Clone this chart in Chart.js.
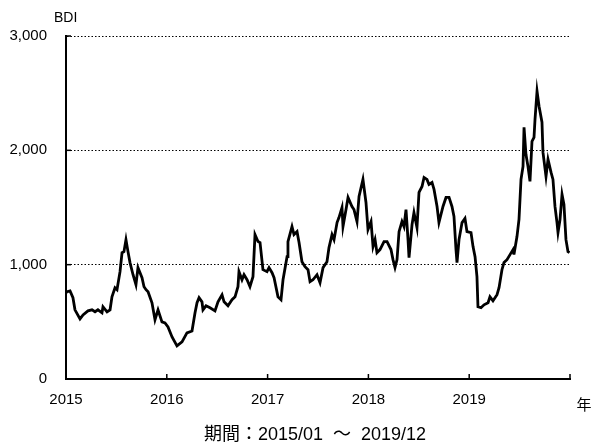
<!DOCTYPE html>
<html>
<head>
<meta charset="utf-8">
<script src="https://cdn.jsdelivr.net/npm/chart.js@4.4.1/dist/chart.umd.min.js"></script>
<style>
  body { margin: 0; background: #fff; }
</style>
</head>
<body>
<canvas id="myChart" width="595" height="445"></canvas>
<script>
// Semana (ano decimal) e valor do BDI
const anos = [
  2015.000, 2015.010, 2015.040, 2015.069, 2015.089, 2015.139, 2015.169, 2015.218, 2015.258, 2015.288,
  2015.317, 2015.357, 2015.367, 2015.407, 2015.437, 2015.456, 2015.486, 2015.506, 2015.536, 2015.556,
  2015.575, 2015.595, 2015.615, 2015.635, 2015.665, 2015.694, 2015.714, 2015.754, 2015.774, 2015.794,
  2015.814, 2015.853, 2015.883, 2015.913, 2015.952, 2015.982, 2016.012, 2016.052, 2016.101, 2016.151,
  2016.200, 2016.250, 2016.280, 2016.300, 2016.320, 2016.349, 2016.359, 2016.389, 2016.429, 2016.478,
  2016.508, 2016.548, 2016.568, 2016.607, 2016.647, 2016.677, 2016.706, 2016.716, 2016.746, 2016.766,
  2016.796, 2016.825, 2016.855, 2016.875, 2016.905, 2016.925, 2016.954, 2016.994, 2017.014, 2017.044,
  2017.064, 2017.103, 2017.133, 2017.153, 2017.193, 2017.202, 2017.242, 2017.262, 2017.292, 2017.312,
  2017.341, 2017.371, 2017.401, 2017.421, 2017.450, 2017.490, 2017.520, 2017.550, 2017.589, 2017.609,
  2017.639, 2017.659, 2017.689, 2017.708, 2017.738, 2017.748, 2017.778, 2017.798, 2017.837, 2017.857,
  2017.887, 2017.907, 2017.946, 2017.976, 2017.996, 2018.026, 2018.046, 2018.066, 2018.085, 2018.115,
  2018.155, 2018.185, 2018.224, 2018.244, 2018.264, 2018.284, 2018.304, 2018.333, 2018.353, 2018.373,
  2018.393, 2018.403, 2018.433, 2018.452, 2018.482, 2018.502, 2018.532, 2018.552, 2018.581, 2018.601,
  2018.631, 2018.651, 2018.681, 2018.700, 2018.740, 2018.770, 2018.800, 2018.829, 2018.849, 2018.869,
  2018.879, 2018.899, 2018.929, 2018.958, 2018.978, 2019.018, 2019.038, 2019.058, 2019.077, 2019.087,
  2019.117, 2019.147, 2019.187, 2019.206, 2019.236, 2019.276, 2019.296, 2019.325, 2019.345, 2019.375,
  2019.405, 2019.435, 2019.444, 2019.474, 2019.494, 2019.514, 2019.534, 2019.544, 2019.563, 2019.583,
  2019.603, 2019.623, 2019.643, 2019.653, 2019.673, 2019.693, 2019.722, 2019.732, 2019.762, 2019.782,
  2019.812, 2019.831, 2019.851, 2019.871, 2019.881, 2019.901, 2019.921, 2019.940, 2019.960, 2019.980,
  2019.995
];

const bdi = [
  754, 763, 770, 711, 605, 526, 561, 596, 605, 588,
  605, 579, 632, 588, 605, 719, 798, 781, 939, 1105,
  1114, 1219, 1114, 1018, 912, 825, 974, 886, 807, 781,
  763, 667, 518, 605, 500, 491, 456, 368, 289, 325,
  404, 420, 579, 667, 711, 675, 605, 640, 623, 596,
  675, 737, 675, 640, 693, 719, 807, 939, 868, 912,
  868, 807, 895, 1263, 1202, 1193, 956, 939, 974, 930,
  886, 719, 693, 868, 1070, 1202, 1333, 1263, 1289, 1193,
  1026, 982, 956, 851, 868, 912, 842, 974, 1026, 1149,
  1263, 1219, 1368, 1412, 1500, 1333, 1482, 1588, 1509, 1482,
  1377, 1596, 1746, 1544, 1307, 1377, 1158, 1219, 1105, 1132,
  1202, 1202, 1132, 1044, 974, 1044, 1289, 1377, 1333, 1482,
  1219, 1061, 1351, 1456, 1325, 1632, 1684, 1763, 1746, 1702,
  1719, 1658, 1509, 1368, 1509, 1588, 1588, 1509, 1421, 1132,
  1018, 1219, 1368, 1404, 1289, 1281, 1158, 1070, 895, 632,
  623, 649, 667, 719, 684, 737, 798, 956, 1018, 1044,
  1088, 1132, 1088, 1246, 1395, 1746, 1860, 2202, 1965, 1860,
  1728, 2079, 2114, 2272, 2518, 2386, 2246, 1982, 1772, 1921,
  1807, 1746, 1509, 1368, 1281, 1395, 1614, 1526, 1219, 1114,
  1105
];

const ticksAno = [2015, 2016, 2017, 2018, 2019, 2020];
const labelsAno = ['2015', '2016', '2017', '2018', '2019', ''];
const ticksBdi = [0, 1000, 2000, 3000];
const labelsBdi = ['0', '1,000', '2,000', '3,000'];

const tituloEixoY = 'BDI';
const tituloEixoX = '年';
const periodo = '期間：2015/01  〜  2019/12';

const fonte = "'Liberation Sans', 'Noto Sans CJK JP', sans-serif";
Chart.defaults.font.family = fonte;
Chart.defaults.color = '#000';

// marcas dos eixos para dentro + textos soltos
const extras = {
    id: 'extras',
    afterDraw(chart) {
        const ctx = chart.ctx;
        const area = chart.chartArea;
        const x = chart.scales.x;
        const y = chart.scales.y;
        ctx.save();
        ctx.strokeStyle = '#000';
        ctx.lineWidth = 1.5;
        ticksAno.forEach(v => {
            const px = x.getPixelForValue(v);
            ctx.beginPath();
            ctx.moveTo(px, area.bottom);
            ctx.lineTo(px, area.bottom - 5);
            ctx.stroke();
        });
        ticksBdi.forEach(v => {
            const py = y.getPixelForValue(v);
            ctx.beginPath();
            ctx.moveTo(area.left, py);
            ctx.lineTo(area.left + 5, py);
            ctx.stroke();
        });

        ctx.fillStyle = '#000';
        ctx.font = "14px " + fonte;
        ctx.textAlign = 'left';
        ctx.textBaseline = 'alphabetic';
        ctx.fillText(tituloEixoY, 54, 22);

        ctx.font = "15px " + fonte;
        ctx.textAlign = 'center';
        ctx.textBaseline = 'middle';
        ctx.fillText(tituloEixoX, 584, 406);

        ctx.font = "18px " + fonte;
        ctx.fillText(periodo, 315, 435);
        ctx.restore();
    }
};

const ctx = document.getElementById('myChart');

new Chart(ctx, {
    type: 'line',
    data: {
        datasets: [{
            data: anos.map((a, i) => ({ x: a, y: bdi[i] })),
            borderColor: '#000',
            borderWidth: 2.8,
            pointRadius: 0,
            tension: 0,
            fill: false
        }]
    },
    options: {
        responsive: false,
        animation: false,
        layout: { padding: { top: 36, right: 25, left: 0, bottom: 0 } },
        plugins: {
            legend: { display: false },
            tooltip: { enabled: false }
        },
        scales: {
            x: {
                type: 'linear',
                min: 2015,
                max: 2020,
                afterBuildTicks: s => { s.ticks = ticksAno.map(v => ({ value: v })); },
                afterFit: s => { s.height = 66; },
                ticks: {
                    callback: (v, i) => labelsAno[i],
                    font: { size: 15 },
                    maxRotation: 0,
                    autoSkip: false,
                    padding: 12
                },
                grid: { display: false, drawTicks: false },
                border: { display: true, color: '#000', width: 2 }
            },
            y: {
                min: 0,
                max: 3000,
                afterBuildTicks: s => { s.ticks = ticksBdi.map(v => ({ value: v })); },
                afterFit: s => { s.width = 66; },
                ticks: {
                    callback: (v, i) => labelsBdi[i],
                    font: { size: 15 },
                    padding: 19
                },
                grid: { color: '#000', lineWidth: 1, drawTicks: false },
                border: { display: true, color: '#000', width: 2, dash: [1.5, 2] }
            }
        }
    },
    plugins: [extras]
});
</script>
</body>
</html>
